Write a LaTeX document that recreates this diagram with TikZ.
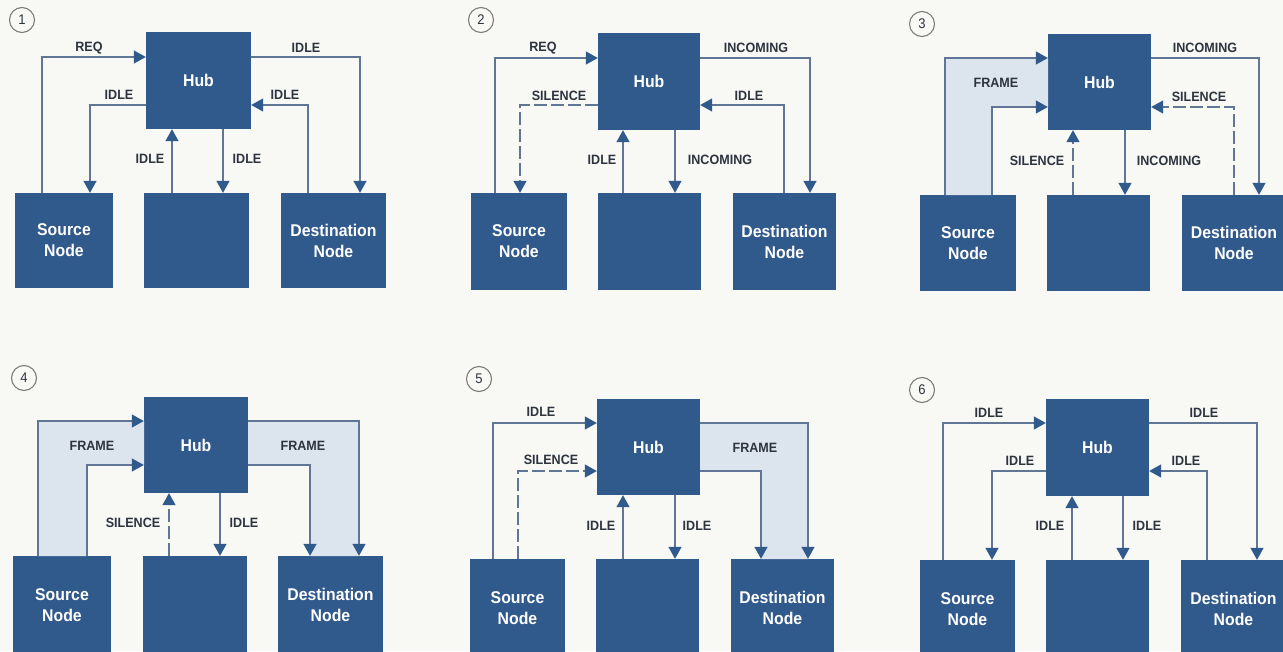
\documentclass[tikz,border=0pt]{standalone}
\usepackage{fontspec}
\setmainfont{Liberation Sans}[FakeStretch=0.93]
\usetikzlibrary{arrows.meta}
\definecolor{boxblue}{RGB}{48,89,140}
\definecolor{wireblue}{RGB}{96,118,148}
\definecolor{bandblue}{RGB}{220,228,238}
\definecolor{labelgrey}{RGB}{45,52,62}
\definecolor{paper}{RGB}{248,248,245}
\definecolor{ringgrey}{RGB}{125,125,125}

\begin{document}
\begin{tikzpicture}[x=1pt,y=-1pt,
  unit/.style={fill=boxblue, inner sep=0pt, text=white, align=center,
    font=\bfseries\fontsize{17}{21}\selectfont},
  wire/.style={draw=wireblue, line width=1.4pt,
    -{Triangle[length=12pt,width=13pt,color=boxblue]}},
  quiet/.style={wire, dash pattern=on 13pt off 4pt},
  tag/.style={text=labelgrey, inner sep=0pt,
    font=\bfseries\fontsize{13.5}{15}\selectfont},
  band/.style={fill=bandblue, draw=none},
  stage/.style={circle, draw=ringgrey, line width=1.1pt, minimum size=25pt,
    inner sep=0pt, text=labelgrey, font=\fontsize{14}{14}\selectfont},
]
\useasboundingbox (0,0) rectangle (1283,651);
\clip (0,0) rectangle (1283,651);
\fill[paper] (0,0) rectangle (1283,651);

% ---------------- stage 1 ----------------
\node[stage] (n1) at (22,20) {1};
\node[unit, minimum width=105pt, minimum height=97pt] (h1) at (198.5,80.5) {Hub};
\node[unit, minimum width=98pt, minimum height=95pt] (s1) at (64,240.5) {Source\\Node};
\node[unit, minimum width=105pt, minimum height=95pt] (m1) at (196.5,240.5) {};
\node[unit, minimum width=105pt, minimum height=95pt] (d1) at (333.5,240.5) {Destination\\Node};
\draw[wire] (s1.north -| 42,0) |- (h1.west |- 0,57);
\draw[wire] (h1.east |- 0,57) -| (d1.north -| 360,0);
\draw[wire] (h1.west |- 0,105) -| (s1.north -| 90,0);
\draw[wire] (d1.north -| 308,0) |- (h1.east |- 0,105);
\draw[wire] (m1.north -| 172,0) -- (h1.south -| 172,0);
\draw[wire] (h1.south -| 223,0) -- (m1.north -| 223,0);
\node[tag] (t1a) at (89,48) {REQ};
\node[tag] (t1b) at (306,48) {IDLE};
\node[tag] (t1c) at (119,95) {IDLE};
\node[tag] (t1d) at (285,95) {IDLE};
\node[tag] (t1e) at (150,159) {IDLE};
\node[tag] (t1f) at (247,159) {IDLE};

% ---------------- stage 2 ----------------
\node[stage] (n2) at (481,20) {2};
\node[unit, minimum width=102pt, minimum height=97pt] (h2) at (649,81.5) {Hub};
\node[unit, minimum width=96pt, minimum height=97pt] (s2) at (519,241.5) {Source\\Node};
\node[unit, minimum width=103pt, minimum height=97pt] (m2) at (649.5,241.5) {};
\node[unit, minimum width=103pt, minimum height=97pt] (d2) at (784.5,241.5) {Destination\\Node};
\draw[wire] (s2.north -| 495,0) |- (h2.west |- 0,58);
\draw[wire] (h2.east |- 0,58) -| (d2.north -| 810,0);
\draw[quiet] (h2.west |- 0,105) -| (s2.north -| 520,0);
\draw[wire] (d2.north -| 784,0) |- (h2.east |- 0,105);
\draw[wire] (m2.north -| 623,0) -- (h2.south -| 623,0);
\draw[wire] (h2.south -| 675,0) -- (m2.north -| 675,0);
\node[tag] (t2a) at (543,48) {REQ};
\node[tag] (t2b) at (756,48) {INCOMING};
\node[tag] (t2c) at (559,96) {SILENCE};
\node[tag] (t2d) at (749,96) {IDLE};
\node[tag] (t2e) at (602,160) {IDLE};
\node[tag] (t2f) at (720,160) {INCOMING};

% ---------------- stage 3 ----------------
\node[stage] (n3) at (922,24) {3};
\node[unit, minimum width=103pt, minimum height=96pt] (h3) at (1099.5,82) {Hub};
\node[unit, minimum width=96pt, minimum height=96pt] (s3) at (968,243) {Source\\Node};
\node[unit, minimum width=103pt, minimum height=96pt] (m3) at (1098.5,243) {};
\node[unit, minimum width=104pt, minimum height=96pt] (d3) at (1234,243) {Destination\\Node};
\fill[band] (945,195) -- (945,58) -- (1048,58) -- (1048,107) -- (992,107) -- (992,195) -- cycle;
\draw[wire] (s3.north -| 945,0) |- (h3.west |- 0,58);
\draw[wire] (s3.north -| 992,0) |- (h3.west |- 0,107);
\draw[wire] (h3.east |- 0,58) -| (d3.north -| 1259,0);
\draw[quiet] (d3.north -| 1234,0) |- (h3.east |- 0,107);
\draw[quiet] (m3.north -| 1073,0) -- (h3.south -| 1073,0);
\draw[wire] (h3.south -| 1125,0) -- (m3.north -| 1125,0);
\node[tag] (t3a) at (996,83) {FRAME};
\node[tag] (t3b) at (1205,48) {INCOMING};
\node[tag] (t3c) at (1199,97) {SILENCE};
\node[tag] (t3d) at (1037,161) {SILENCE};
\node[tag] (t3e) at (1169,161) {INCOMING};

% ---------------- stage 4 ----------------
\node[stage] (n4) at (24,378) {4};
\node[unit, minimum width=104pt, minimum height=96pt] (h4) at (196,445) {Hub};
\node[unit, minimum width=98pt, minimum height=98pt] (s4) at (62,605) {Source\\Node};
\node[unit, minimum width=104pt, minimum height=98pt] (m4) at (195,605) {};
\node[unit, minimum width=105pt, minimum height=98pt] (d4) at (330.5,605) {Destination\\Node};
\fill[band] (38,556) -- (38,421) -- (144,421) -- (144,465) -- (87,465) -- (87,556) -- cycle;
\fill[band] (248,421) -- (359,421) -- (359,556) -- (310,556) -- (310,465) -- (248,465) -- cycle;
\draw[wire] (s4.north -| 38,0) |- (h4.west |- 0,421);
\draw[wire] (s4.north -| 87,0) |- (h4.west |- 0,465);
\draw[wire] (h4.east |- 0,421) -| (d4.north -| 359,0);
\draw[wire] (h4.east |- 0,465) -| (d4.north -| 310,0);
\draw[quiet] (m4.north -| 169,0) -- (h4.south -| 169,0);
\draw[wire] (h4.south -| 220,0) -- (m4.north -| 220,0);
\node[tag] (t4a) at (92,446) {FRAME};
\node[tag] (t4b) at (303,446) {FRAME};
\node[tag] (t4c) at (133,523) {SILENCE};
\node[tag] (t4d) at (244,523) {IDLE};

% ---------------- stage 5 ----------------
\node[stage] (n5) at (479,379) {5};
\node[unit, minimum width=103pt, minimum height=96pt] (h5) at (648.5,447) {Hub};
\node[unit, minimum width=95pt, minimum height=98pt] (s5) at (517.5,608) {Source\\Node};
\node[unit, minimum width=103pt, minimum height=98pt] (m5) at (647.5,608) {};
\node[unit, minimum width=103pt, minimum height=98pt] (d5) at (782.5,608) {Destination\\Node};
\fill[band] (700,423) -- (808,423) -- (808,559) -- (761,559) -- (761,471) -- (700,471) -- cycle;
\draw[wire] (s5.north -| 493,0) |- (h5.west |- 0,423);
\draw[quiet] (s5.north -| 518,0) |- (h5.west |- 0,471);
\draw[wire] (h5.east |- 0,423) -| (d5.north -| 808,0);
\draw[wire] (h5.east |- 0,471) -| (d5.north -| 761,0);
\draw[wire] (m5.north -| 623,0) -- (h5.south -| 623,0);
\draw[wire] (h5.south -| 675,0) -- (m5.north -| 675,0);
\node[tag] (t5a) at (541,412) {IDLE};
\node[tag] (t5b) at (551,460) {SILENCE};
\node[tag] (t5c) at (755,448) {FRAME};
\node[tag] (t5d) at (601,526) {IDLE};
\node[tag] (t5e) at (697,526) {IDLE};

% ---------------- stage 6 ----------------
\node[stage] (n6) at (922,390) {6};
\node[unit, minimum width=103pt, minimum height=97pt] (h6) at (1097.5,447.5) {Hub};
\node[unit, minimum width=95pt, minimum height=98pt] (s6) at (967.5,609) {Source\\Node};
\node[unit, minimum width=103pt, minimum height=98pt] (m6) at (1097.5,609) {};
\node[unit, minimum width=105pt, minimum height=98pt] (d6) at (1233.5,609) {Destination\\Node};
\draw[wire] (s6.north -| 943,0) |- (h6.west |- 0,423);
\draw[wire] (h6.west |- 0,471) -| (s6.north -| 992,0);
\draw[wire] (h6.east |- 0,423) -| (d6.north -| 1257,0);
\draw[wire] (d6.north -| 1207,0) |- (h6.east |- 0,471);
\draw[wire] (m6.north -| 1072,0) -- (h6.south -| 1072,0);
\draw[wire] (h6.south -| 1123,0) -- (m6.north -| 1123,0);
\node[tag] (t6a) at (989,413) {IDLE};
\node[tag] (t6b) at (1020,461) {IDLE};
\node[tag] (t6c) at (1204,413) {IDLE};
\node[tag] (t6d) at (1186,461) {IDLE};
\node[tag] (t6e) at (1050,526) {IDLE};
\node[tag] (t6f) at (1147,526) {IDLE};
\end{tikzpicture}
\end{document}
